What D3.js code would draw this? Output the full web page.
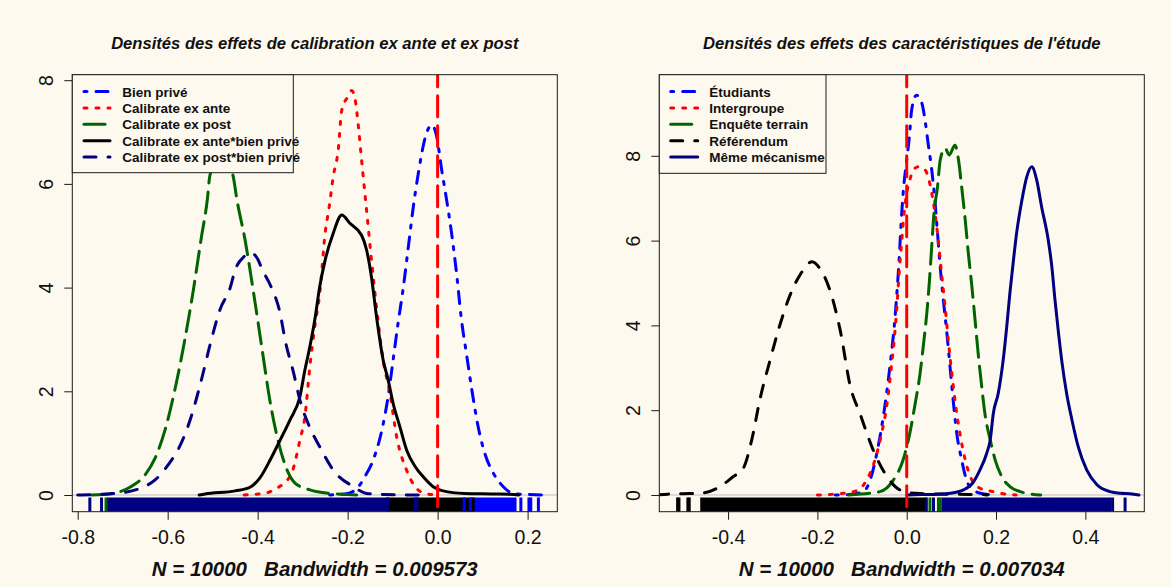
<!DOCTYPE html>
<html>
<head>
<meta charset="utf-8">
<script src="https://cdn.jsdelivr.net/npm/d3@7"></script>
<style>
  html, body { margin: 0; padding: 0; background: #fef9ee; }
  svg { display: block; font-family: "Liberation Sans", Arial, Helvetica, sans-serif; }
</style>
</head>
<body>
<svg id="chart" width="1171" height="587"></svg>
<script>
// ---------- Panel 1 : calibration effects (x = effect, y = density) ----------
const leftTitle = "Densités des effets de calibration ex ante et ex post";
const leftSub = "N = 10000   Bandwidth = 0.009573";
const leftXLim = [-0.812, 0.266];
const leftYLim = [-0.322, 8.106];
const leftXTicks = [-0.8, -0.6, -0.4, -0.2, 0.0, 0.2];
const leftXLabels = ["-0.8", "-0.6", "-0.4", "-0.2", "0.0", "0.2"];
const leftYTicks = [0, 2, 4, 6, 8];
const leftYLabels = ["0", "2", "4", "6", "8"];

const bienPrive = [[-0.24,0],[-0.20,0.03],[-0.176,0.16],[-0.162,0.35],[-0.143,0.68],[-0.124,1.25],[-0.110,1.90],
  [-0.099,2.60],[-0.088,3.31],[-0.076,4.02],[-0.065,4.79],[-0.054,5.56],[-0.043,6.20],[-0.028,6.88],[-0.013,7.14],
  [-0.002,6.91],[0.009,6.27],[0.020,5.69],[0.031,5.05],[0.042,4.28],[0.053,3.38],[0.064,2.73],[0.076,2.03],
  [0.090,1.32],[0.105,0.80],[0.124,0.42],[0.146,0.16],[0.168,0.03],[0.20,0.01],[0.25,0]];
const exAnte = [[-0.43,0],[-0.414,0.01],[-0.38,0.04],[-0.36,0.12],[-0.34,0.24],[-0.323,0.45],[-0.306,1.06],
  [-0.295,1.51],[-0.284,2.47],[-0.273,3.25],[-0.262,3.89],[-0.250,5.05],[-0.241,5.56],[-0.232,6.14],[-0.221,6.65],
  [-0.213,7.42],[-0.198,7.70],[-0.191,7.80],[-0.184,7.66],[-0.176,7.10],[-0.169,6.46],[-0.158,5.50],[-0.147,4.53],
  [-0.136,3.63],[-0.121,2.60],[-0.106,1.96],[-0.091,1.12],[-0.069,0.48],[-0.050,0.16],[-0.028,0.03],[0.0,0]];
const exPost = [[-0.77,0],[-0.717,0.04],[-0.684,0.15],[-0.650,0.39],[-0.628,0.71],[-0.606,1.25],[-0.584,2.03],
  [-0.562,2.99],[-0.543,3.95],[-0.526,4.92],[-0.512,5.69],[-0.506,6.17],[-0.48,6.60],[-0.455,6.17],[-0.446,5.69],
  [-0.428,4.92],[-0.410,3.95],[-0.390,2.80],[-0.373,1.83],[-0.355,1.06],[-0.339,0.58],[-0.317,0.23],[-0.284,0.10],
  [-0.239,0.03],[-0.20,0.01],[-0.18,0]];
const exAnteBien = [[-0.53,0],[-0.517,0.02],[-0.45,0.08],[-0.417,0.15],[-0.395,0.33],[-0.372,0.68],[-0.350,1.06],
  [-0.328,1.45],[-0.306,1.90],[-0.295,2.41],[-0.284,2.86],[-0.273,3.38],[-0.262,4.02],[-0.250,4.53],[-0.232,5.05],
  [-0.213,5.40],[-0.195,5.24],[-0.169,5.01],[-0.158,4.73],[-0.147,4.20],[-0.136,3.45],[-0.121,2.60],
  [-0.110,2.22],[-0.099,1.77],[-0.084,1.32],[-0.069,0.87],[-0.050,0.55],[-0.032,0.35],[-0.010,0.16],[0.012,0.08],
  [0.06,0.03],[0.12,0.02],[0.17,0.01],[0.18,0]];
const exPostBien = [[-0.80,0],[-0.772,0.005],[-0.706,0.04],[-0.661,0.13],[-0.628,0.29],[-0.599,0.58],[-0.572,0.96],
  [-0.550,1.45],[-0.528,2.12],[-0.506,2.89],[-0.484,3.57],[-0.461,4.00],[-0.450,4.34],[-0.430,4.60],[-0.414,4.67],
  [-0.400,4.55],[-0.390,4.35],[-0.372,4.05],[-0.350,3.50],[-0.339,2.99],[-0.320,2.35],[-0.306,1.83],[-0.284,1.30],
  [-0.262,0.93],[-0.232,0.48],[-0.187,0.16],[-0.158,0.03],[-0.12,0.01],[-0.04,0]];

// rug marks of the samples (dense runs and isolated values)
const rugBienPrive = { runs: [[0.079, 0.172]], ticks: [0.059, 0.073, 0.185, 0.203, 0.207, 0.224] };
const rugExAnteBien = { runs: [[-0.111, 0.079]], ticks: [] };
const rugExPostBien = { runs: [[-0.732, -0.111]], ticks: [-0.773, -0.747, -0.050, -0.046] };
const rugExPost = { runs: [], ticks: [-0.737] };

// ---------- Panel 2 : study characteristics ----------
const rightTitle = "Densités des effets des caractéristiques de l'étude";
const rightSub = "N = 10000   Bandwidth = 0.007034";
const rightXLim = [-0.554, 0.532];
const rightYLim = [-0.394, 9.913];
const rightXTicks = [-0.4, -0.2, 0.0, 0.2, 0.4];
const rightXLabels = ["-0.4", "-0.2", "0.0", "0.2", "0.4"];
const rightYTicks = [0, 2, 4, 6, 8];
const rightYLabels = ["0", "2", "4", "6", "8"];

const etudiants = [[-0.16,0],[-0.13,0.01],[-0.097,0.08],[-0.082,0.35],[-0.067,0.98],[-0.056,1.61],[-0.045,2.40],
  [-0.036,3.18],[-0.028,3.97],[-0.022,4.76],[-0.017,5.54],[-0.013,6.33],[-0.008,7.12],[0.0,7.90],[0.006,8.45],
  [0.011,9.08],[0.022,9.43],[0.034,9.24],[0.041,8.84],[0.048,8.29],[0.056,7.67],[0.063,6.96],[0.069,6.17],
  [0.075,5.38],[0.082,4.60],[0.090,3.81],[0.097,3.03],[0.104,2.24],[0.112,1.46],[0.123,0.83],[0.134,0.35],
  [0.149,0.12],[0.17,0.03],[0.20,0]];
const intergroupe = [[-0.20,0],[-0.15,0.03],[-0.108,0.12],[-0.090,0.35],[-0.071,0.83],[-0.056,1.46],[-0.045,2.08],
  [-0.036,2.87],[-0.028,3.66],[-0.022,4.44],[-0.017,5.23],[-0.011,6.01],[-0.006,6.64],[0.0,7.12],[0.007,7.43],
  [0.015,7.67],[0.026,7.74],[0.041,7.67],[0.056,7.12],[0.069,6.17],[0.078,5.23],[0.086,4.44],[0.093,3.66],
  [0.101,2.87],[0.110,2.08],[0.119,1.46],[0.131,0.83],[0.146,0.35],[0.164,0.16],[0.185,0.10],[0.21,0.04],[0.245,0]];
const enquete = [[-0.13,0],[-0.06,0.08],[-0.030,0.35],[-0.008,0.83],[0.007,1.46],[0.019,2.16],[0.030,2.87],
  [0.037,3.50],[0.045,4.29],[0.051,5.07],[0.056,5.86],[0.061,6.64],[0.069,7.27],[0.075,7.90],[0.086,8.18],
  [0.095,8.02],[0.108,8.25],[0.116,7.90],[0.123,7.27],[0.131,6.49],[0.138,5.70],[0.146,4.91],[0.153,4.13],
  [0.160,3.34],[0.168,2.55],[0.175,1.93],[0.187,1.30],[0.198,0.83],[0.213,0.43],[0.231,0.20],[0.254,0.08],
  [0.28,0.02],[0.30,0]];
const referendum = [[-0.56,0],[-0.535,0.02],[-0.50,0.03],[-0.456,0.05],[-0.418,0.20],[-0.389,0.43],[-0.366,0.63],
  [-0.347,1.30],[-0.329,2.24],[-0.306,3.18],[-0.284,4.01],[-0.261,4.72],[-0.239,5.19],[-0.212,5.50],[-0.195,5.35],
  [-0.172,4.83],[-0.149,3.89],[-0.126,2.55],[-0.105,1.93],[-0.075,1.06],[-0.045,0.45],[-0.015,0.12],[0.02,0.04],
  [0.08,0.02],[0.17,0.01],[0.18,0]];
const mecanisme = [[0.0,0],[0.03,0.01],[0.07,0.02],[0.097,0.04],[0.127,0.12],[0.149,0.30],[0.164,0.59],[0.179,0.98],
  [0.187,1.30],[0.194,1.93],[0.205,2.40],[0.216,3.18],[0.224,3.97],[0.231,4.76],[0.239,5.54],[0.246,6.17],
  [0.258,6.96],[0.269,7.51],[0.280,7.74],[0.291,7.43],[0.302,6.80],[0.317,6.01],[0.325,5.38],[0.332,4.60],
  [0.340,3.81],[0.347,3.18],[0.358,2.40],[0.370,1.77],[0.384,1.14],[0.403,0.59],[0.426,0.24],[0.455,0.08],
  [0.48,0.04],[0.50,0.03],[0.52,0]];

const rugReferendum = { runs: [[-0.459, 0.041]], ticks: [-0.513, -0.510, -0.490, -0.487] };
const rugMecanisme = { runs: [[0.081, 0.455]], ticks: [0.044, 0.060, 0.461, 0.489] };
const rugEnquete = { runs: [], ticks: [0.052, 0.071, 0.075] };

// ---------- styles (R lty patterns at lwd = 3) ----------
const DASH = { solid: null, dashed: "12,12", dotted: "3,9", dotdash: "3,9,12,9", longdash: "21,9" };
const COL = { blue: "#0000ff", red: "#ff0000", green: "#006400", black: "#000000", navy: "#000080" };
const BG = "#fef9ee";
const LW = 3;
const FONT = '"Liberation Sans", Arial, Helvetica, sans-serif';

const panels = [
  {
    key: "p1",
    box: { x0: 72.3, x1: 557.3, y0: 74.7, y1: 511.7 },
    xlim: leftXLim, ylim: leftYLim,
    title: leftTitle, sub: leftSub,
    xTicks: leftXTicks, xLabels: leftXLabels, yTicks: leftYTicks, yLabels: leftYLabels,
    series: [
      { label: "Bien privé", values: bienPrive, color: COL.blue, lty: "dotdash" },
      { label: "Calibrate ex ante", values: exAnte, color: COL.red, lty: "dotted" },
      { label: "Calibrate ex post", values: exPost, color: COL.green, lty: "longdash" },
      { label: "Calibrate ex ante*bien privé", values: exAnteBien, color: COL.black, lty: "solid" },
      { label: "Calibrate ex post*bien privé", values: exPostBien, color: COL.navy, lty: "dashed" }
    ],
    rugs: [
      { rug: rugBienPrive, color: COL.blue },
      { rug: rugExAnteBien, color: COL.black },
      { rug: rugExPostBien, color: COL.navy },
      { rug: rugExPost, color: COL.green }
    ],
    legend: { right: 293.3, bottom: 172.7, seg: [84, 110], textX: 122.3 }
  },
  {
    key: "p2",
    box: { x0: 659.3, x1: 1144.3, y0: 74.7, y1: 511.7 },
    xlim: rightXLim, ylim: rightYLim,
    title: rightTitle, sub: rightSub,
    xTicks: rightXTicks, xLabels: rightXLabels, yTicks: rightYTicks, yLabels: rightYLabels,
    series: [
      { label: "Étudiants", values: etudiants, color: COL.blue, lty: "dotdash" },
      { label: "Intergroupe", values: intergroupe, color: COL.red, lty: "dotted" },
      { label: "Enquête terrain", values: enquete, color: COL.green, lty: "longdash" },
      { label: "Référendum", values: referendum, color: COL.black, lty: "dashed" },
      { label: "Même mécanisme", values: mecanisme, color: COL.navy, lty: "solid" }
    ],
    rugs: [
      { rug: rugReferendum, color: COL.black },
      { rug: rugMecanisme, color: COL.navy },
      { rug: rugEnquete, color: COL.green }
    ],
    legend: { right: 826, bottom: 173.3, seg: [670.7, 697.7], textX: 709.3 }
  }
];

const svg = d3.select("#chart");
svg.append("rect").attr("width", 1171).attr("height", 587).attr("fill", BG);

panels.forEach(p => {
  const b = p.box;
  const x = d3.scaleLinear().domain(p.xlim).range([b.x0, b.x1]);
  const y = d3.scaleLinear().domain(p.ylim).range([b.y1, b.y0]);
  const g = svg.append("g");

  const clipId = "clip-" + p.key;
  svg.append("defs").append("clipPath").attr("id", clipId)
    .append("rect").attr("x", b.x0).attr("y", b.y0).attr("width", b.x1 - b.x0).attr("height", b.y1 - b.y0);
  const plot = g.append("g").attr("clip-path", `url(#${clipId})`);

  // horizontal zero line
  plot.append("line")
    .attr("x1", b.x0).attr("x2", b.x1).attr("y1", y(0)).attr("y2", y(0))
    .attr("stroke", "#bdbdbd").attr("stroke-width", 1);

  // density curves
  const line = d3.line().x(d => x(d[0])).y(d => y(d[1])).curve(d3.curveMonotoneX);
  p.series.forEach(s => {
    plot.append("path")
      .attr("d", line(s.values))
      .attr("fill", "none")
      .attr("stroke", s.color)
      .attr("stroke-width", LW)
      .attr("stroke-linecap", "round")
      .attr("stroke-linejoin", "round")
      .attr("stroke-dasharray", DASH[s.lty]);
  });

  // rug along the bottom of the plot region
  const rugTop = b.y1 - 14.2;
  p.rugs.forEach(r => {
    r.rug.runs.forEach(run => {
      plot.append("rect")
        .attr("x", x(run[0]) - 1.5).attr("y", rugTop)
        .attr("width", x(run[1]) - x(run[0]) + 3).attr("height", b.y1 - rugTop)
        .attr("fill", r.color);
    });
  });
  p.rugs.forEach(r => {
    r.rug.ticks.forEach(t => {
      plot.append("line")
        .attr("x1", x(t)).attr("x2", x(t)).attr("y1", rugTop).attr("y2", b.y1)
        .attr("stroke", r.color).attr("stroke-width", LW);
    });
  });

  // reference line at zero effect
  plot.append("line")
    .attr("x1", x(0)).attr("x2", x(0)).attr("y1", b.y0).attr("y2", b.y1)
    .attr("stroke", COL.red).attr("stroke-width", LW)
    .attr("stroke-linecap", "round")
    .attr("stroke-dasharray", DASH.longdash).attr("stroke-dashoffset", -21);

  // frame
  g.append("rect")
    .attr("x", b.x0).attr("y", b.y0).attr("width", b.x1 - b.x0).attr("height", b.y1 - b.y0)
    .attr("fill", "none").attr("stroke", "#1a1a1a").attr("stroke-width", 1);

  // x axis
  const xa = g.append("g").attr("transform", `translate(0,${b.y1})`)
    .call(d3.axisBottom(x).tickValues(p.xTicks).tickSize(8).tickSizeOuter(0)
      .tickFormat((d, i) => p.xLabels[i]));
  xa.select(".domain").remove();
  xa.selectAll(".tick line").attr("stroke", "#1a1a1a");
  xa.selectAll(".tick text")
    .attr("y", 32).attr("dy", null)
    .attr("fill", "#111").style("font-size", "19.5px")
    .style("font-family", FONT);

  // y axis with vertical labels
  const ya = g.append("g").attr("transform", `translate(${b.x0},0)`)
    .call(d3.axisLeft(y).tickValues(p.yTicks).tickSize(8).tickSizeOuter(0)
      .tickFormat((d, i) => p.yLabels[i]));
  ya.select(".domain").remove();
  ya.selectAll(".tick line").attr("stroke", "#1a1a1a");
  ya.selectAll(".tick text")
    .attr("x", null).attr("dy", null)
    .attr("transform", "translate(-19.5,0) rotate(-90)")
    .attr("text-anchor", "middle")
    .attr("fill", "#111").style("font-size", "19.5px")
    .style("font-family", FONT);

  const cx = (b.x0 + b.x1) / 2;
  // title
  g.append("text")
    .attr("x", cx).attr("y", 49)
    .attr("text-anchor", "middle")
    .style("font-size", "16.6px").style("font-weight", "bold").style("font-style", "italic")
    .attr("fill", "#111")
    .text(p.title);
  // sample size / bandwidth line
  g.append("text")
    .attr("x", cx).attr("y", 575.5)
    .attr("text-anchor", "middle")
    .style("white-space", "pre")
    .attr("xml:space", "preserve")
    .style("font-size", "20.5px").style("font-weight", "bold").style("font-style", "italic")
    .attr("fill", "#111")
    .text(p.sub);

  // legend
  const L = p.legend;
  const lg = g.append("g");
  lg.append("rect")
    .attr("x", b.x0).attr("y", b.y0).attr("width", L.right - b.x0).attr("height", L.bottom - b.y0)
    .attr("fill", BG).attr("stroke", "#1a1a1a").attr("stroke-width", 1);
  p.series.forEach((s, i) => {
    const ry = 91.5 + i * 16.4;
    lg.append("line")
      .attr("x1", L.seg[0]).attr("x2", L.seg[1]).attr("y1", ry).attr("y2", ry)
      .attr("stroke", s.color).attr("stroke-width", LW)
      .attr("stroke-linecap", "round")
      .attr("stroke-dasharray", DASH[s.lty]);
    lg.append("text")
      .attr("x", L.textX).attr("y", ry + 5)
      .style("font-size", "13.5px").style("font-weight", "bold")
      .attr("fill", "#111")
      .text(s.label);
  });
});
</script>
</body>
</html>
